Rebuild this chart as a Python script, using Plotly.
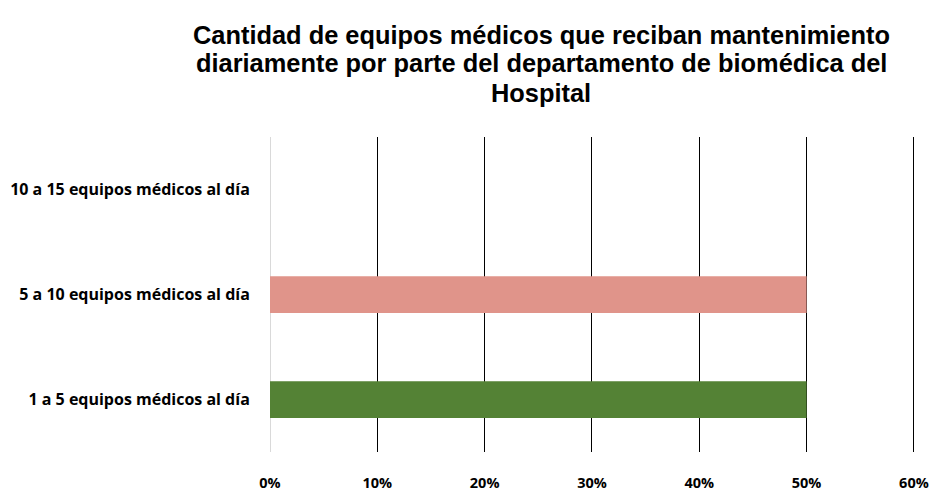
import plotly.graph_objects as go

categories = ["1 a 5 equipos médicos al día",
              "5 a 10 equipos médicos al día",
              "10 a 15 equipos médicos al día"]
values = [0.50, 0.50, 0.0]
colors = ["#548235", "#E0948A", "#A9D18E"]
tick_vals = [0, 0.1, 0.2, 0.3, 0.4, 0.5, 0.6]
tick_text = ["0%", "10%", "20%", "30%", "40%", "50%", "60%"]

title_lines = ["Cantidad de equipos médicos que reciban mantenimiento",
               "diariamente por parte del departamento de biomédica del",
               "Hospital"]
title_y = [35, 63, 93]  # line centres, px from top

W, H = 934, 499
fig = go.Figure(go.Bar(
    y=categories, x=values, orientation="h",
    marker=dict(color=colors, line=dict(width=0)),
    width=0.35, showlegend=False,
))

for line, yy in zip(title_lines, title_y):
    fig.add_annotation(text="<b>" + line + "</b>", xref="paper", yref="paper",
                       x=(541 - 270) / (W - 270 - 19), y=(H - 47 - yy) / (H - 137 - 47),
                       xanchor="center", yanchor="middle", showarrow=False,
                       font=dict(family="Liberation Sans, Arial", size=25.4, color="black"))

fig.update_layout(
    width=W, height=H,
    margin=dict(l=270, r=19, t=137, b=47, autoexpand=False),
    paper_bgcolor="white", plot_bgcolor="white",
    font=dict(family="Open Sans", color="black"),
    xaxis=dict(range=[0, 0.601], tickvals=tick_vals, ticktext=tick_text,
               showgrid=True, gridcolor="black", gridwidth=1,
               zeroline=True, zerolinecolor="#D9D9D9", zerolinewidth=1,
               showline=False, ticks="outside", ticklen=18, tickcolor="rgba(0,0,0,0)",
               tickfont=dict(family="Open Sans", size=14.5, color="black", weight="bold"),
               automargin=False, fixedrange=True),
    yaxis=dict(showgrid=False, zeroline=False, showline=False,
               ticks="outside", ticklen=16, tickcolor="rgba(0,0,0,0)",
               tickfont=dict(family="Open Sans", size=16, color="black", weight="bold"),
               range=[-0.5, 2.5], automargin=False, fixedrange=True),
)

fig.write_html("out.html")
